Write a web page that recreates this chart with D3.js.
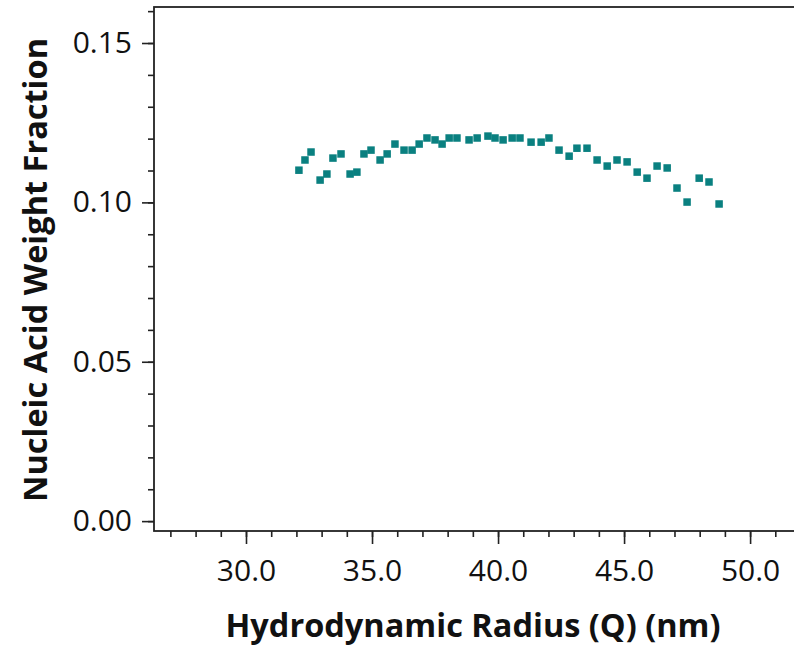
<!DOCTYPE html>
<html>
<head>
<meta charset="utf-8">
<script src="https://cdn.jsdelivr.net/npm/d3@7"></script>
<style>
  body { margin: 0; background: #fff; }
  svg { display: block; }
  text { font-family: "Open Sans", "Noto Sans", sans-serif; }
</style>
</head>
<body>
<svg></svg>
<script>
// data
let radius = [32.10, 32.34, 32.58, 32.94, 33.21, 33.45, 33.77, 34.13, 34.40, 34.68,
              34.96, 35.32, 35.60, 35.91, 36.27, 36.59, 36.87, 37.18, 37.50, 37.78,
              38.06, 38.37, 38.85, 39.17, 39.60, 39.88, 40.20, 40.56, 40.87, 41.31,
              41.71, 42.02, 42.42, 42.82, 43.13, 43.53, 43.93, 44.33, 44.72, 45.12,
              45.52, 45.91, 46.31, 46.71, 47.10, 47.50, 47.98, 48.37, 48.77]
let fraction = [0.1101, 0.1133, 0.1158, 0.1070, 0.1089, 0.1139, 0.1152, 0.1089, 0.1095, 0.1152,
                0.1164, 0.1133, 0.1152, 0.1183, 0.1164, 0.1164, 0.1183, 0.1202, 0.1196, 0.1183,
                0.1202, 0.1202, 0.1196, 0.1202, 0.1208, 0.1202, 0.1196, 0.1202, 0.1202, 0.1189,
                0.1189, 0.1202, 0.1164, 0.1145, 0.1170, 0.1170, 0.1133, 0.1114, 0.1133, 0.1127,
                0.1095, 0.1076, 0.1114, 0.1108, 0.1045, 0.1001, 0.1076, 0.1064, 0.0995]

let xTicks = [30, 35, 40, 45, 50]
let yTicks = [0, 0.05, 0.10, 0.15]
let xTitle = 'Hydrodynamic Radius (Q) (nm)'
let yTitle = 'Nucleic Acid Weight Fraction'

let width = 794
let height = 647

// plot frame (right edge runs off the page like in the original)
let frameLeft = 154
let frameTop = 7
let frameRight = 800
let frameBottom = 531

let svg = d3.select('svg')
svg.attr('width', width).attr('height', height)

let xScale = d3.scaleLinear().domain([26.35, 51.98]).range([frameLeft, frameRight])
let yScale = d3.scaleLinear().domain([-0.0031, 0.1613]).range([frameBottom, frameTop])

// minor ticks every 1.0 and 0.01
let xMinor = d3.range(27, 52, 1)
let yMinor = d3.range(0, 17).map(i => i / 100)

let drawAxes = () => {
    let xMinorAxis = d3.axisBottom(xScale).tickValues(xMinor).tickSize(6).tickFormat('')
    let xAxis = d3.axisBottom(xScale).tickValues(xTicks).tickSize(13).tickPadding(16)
                  .tickFormat(d3.format('.1f'))
    let yMinorAxis = d3.axisLeft(yScale).tickValues(yMinor).tickSize(6).tickFormat('')
    let yAxis = d3.axisLeft(yScale).tickValues(yTicks).tickSize(12).tickPadding(10)
                  .tickFormat(d3.format('.2f'))

    let gs = [
        svg.append('g').attr('transform', 'translate(0,' + frameBottom + ')').call(xMinorAxis),
        svg.append('g').attr('transform', 'translate(0,' + frameBottom + ')').call(xAxis),
        svg.append('g').attr('transform', 'translate(' + frameLeft + ',0)').call(yMinorAxis),
        svg.append('g').attr('transform', 'translate(' + frameLeft + ',0)').call(yAxis)
    ]
    gs.forEach(g => {
        g.select('.domain').remove()
        g.selectAll('line').attr('stroke', '#222').attr('stroke-width', 1.6)
        g.selectAll('text').attr('font-size', 30).attr('fill', '#111')
          .attr('font-family', '"Open Sans", sans-serif')
    })

    // frame
    svg.append('rect')
        .attr('x', frameLeft).attr('y', frameTop)
        .attr('width', frameRight - frameLeft).attr('height', frameBottom - frameTop)
        .attr('fill', 'none').attr('stroke', '#222').attr('stroke-width', 1.8)

    svg.append('text')
        .attr('x', 473).attr('y', 637)
        .attr('text-anchor', 'middle')
        .attr('font-size', 32.5).attr('font-weight', 'bold').attr('fill', '#111')
        .text(xTitle)

    svg.append('text')
        .attr('transform', 'translate(47,270) rotate(-90)')
        .attr('text-anchor', 'middle')
        .attr('font-size', 32.5).attr('font-weight', 'bold').attr('fill', '#111')
        .text(yTitle)
}

let drawPoints = () => {
    let size = 7.5
    svg.append('g')
        .selectAll('rect')
        .data(radius)
        .enter()
        .append('rect')
        .attr('x', (d) => xScale(d) - size / 2)
        .attr('y', (d, i) => yScale(fraction[i]) - size / 2)
        .attr('width', size)
        .attr('height', size)
        .attr('fill', '#0a8080')
}

drawAxes()
drawPoints()
</script>
</body>
</html>
